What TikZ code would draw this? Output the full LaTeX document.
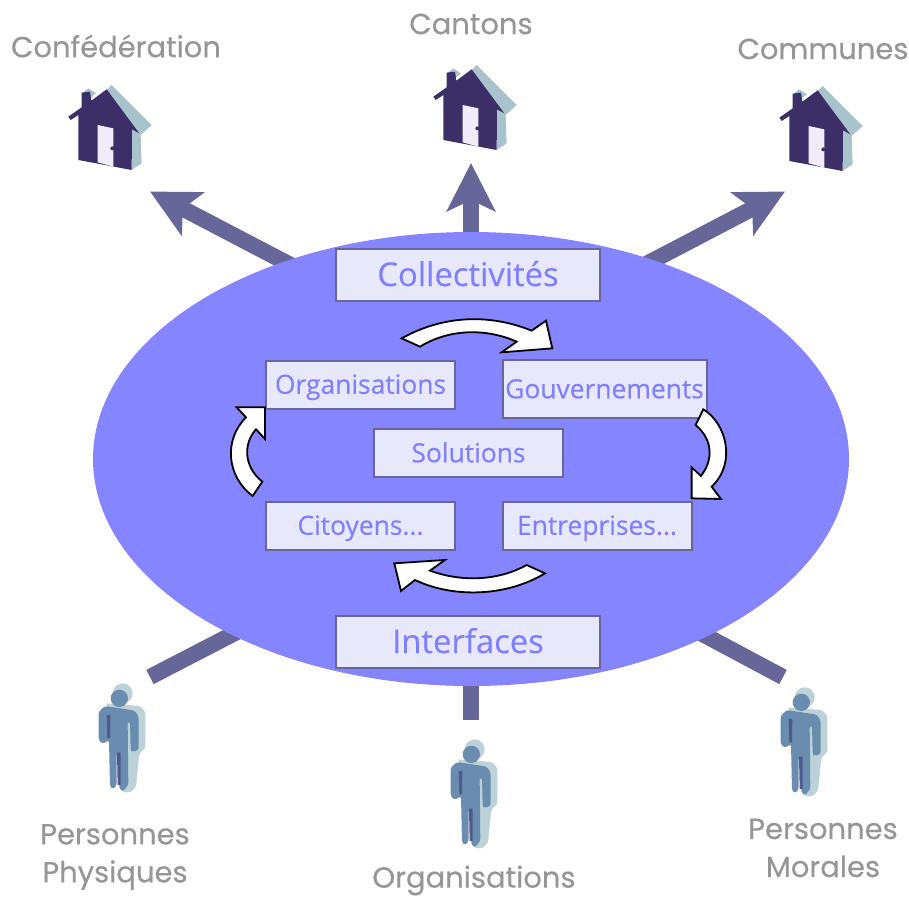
\documentclass[tikz,border=0pt]{standalone}
\usepackage{fontspec}
\setmainfont[FakeBold=0.4]{Poppins}
\newfontfamily\innerfont[FakeBold=0.3]{Open Sans}
\usetikzlibrary{arrows.meta,shapes.geometric}
\definecolor{arrowc}{HTML}{666699}
\definecolor{ellc}{HTML}{8585FF}
\definecolor{boxc}{HTML}{E8E8FC}
\definecolor{txtc}{HTML}{8080FF}
\definecolor{greyc}{HTML}{969696}
\definecolor{hdark}{HTML}{3C2F68}
\definecolor{hlight}{HTML}{A9C3CC}
\definecolor{hdoor}{HTML}{F0ECFA}
\definecolor{pblue}{HTML}{6A8CAE}
\definecolor{plight}{HTML}{BCD2D8}
\definecolor{pdark}{HTML}{4F5A8C}
\tikzset{
 bigarrow/.style={arrowc,line width=16pt,-{Stealth[length=48pt,width=48pt,inset=11pt]}},
 stub/.style={arrowc,line width=16pt},
 boxn/.style={draw=arrowc,line width=2pt,fill=boxc,text=txtc,inner sep=0pt,text height=18.5pt,text depth=0pt,font=\innerfont\fontsize{26.4}{27}\selectfont},
 bigbox/.style={boxn,minimum width=264pt,minimum height=52pt,text height=22pt,font=\innerfont\fontsize{32.8}{33}\selectfont},
 lab/.style={text=greyc,font=\fontsize{29}{38}\selectfont,align=center,inner sep=0pt},
 cyc/.style={fill=white,draw=black,line width=1.8pt,line join=miter},
 house/.pic={
  \begin{scope}[x=0.3333pt,y=-0.3333pt]
   \fill[hlight] (170,60)--(185,45)--(305,165)--(272,195)--(275,280)--(245,300)--(245,180)--cycle;
   \fill[hlight] (95,70)--(115,55)--(138,70)--(120,85)--cycle;
   \fill[hdark] (55,140)--(95,112)--(95,68)--(120,65)--(124,92)--(170,58)--(268,190)--(246,178)--(245,300)--(85,270)--(85,135)--(62,150)--cycle;
   \fill[hdoor] (143,165)--(190,175)--(190,290)--(143,277)--cycle;
   \fill[hdark] (187,235) circle (6);
  \end{scope}},
 person/.pic={
  \begin{scope}[x=0.3333pt,y=-0.3333pt]
   \fill[plight] (128,70) circle (30);
   \fill[plight,rounded corners=2.5pt] (75,100)--(180,108)--(196,125)--(196,235)--(178,250)--(168,350)--(150,368)--(125,365)--(100,130)--cycle;
   \fill[pblue] (118,85) circle (26);
   \fill[pblue,rounded corners=2.5pt] (56,125)--(75,108)--(165,122)--(176,140)--(176,240)--(157,246)--(152,240)--(150,155)--(143,155)--(145,345)--(128,365)--(118,355)--(117,250)--(110,250)--(110,345)--(100,358)--(90,350)--(87,210)--(68,222)--(56,210)--cycle;
   \fill[pdark] (80,135)--(91,135)--(90,205)--(82,205)--cycle;
   \fill[pdark] (111,248)--(122,248)--(122,345)--(113,345)--cycle;
  \end{scope}},
}
\begin{document}
\begin{tikzpicture}[x=1pt,y=-1pt]
\useasboundingbox (0,0) rectangle (909,898);
% arrow anchors
\coordinate (a1) at (150,191.5);
\coordinate (a1s) at (305,272.5);
\coordinate (a2) at (471,163);
\coordinate (a2s) at (471,260);
\coordinate (a3) at (785,191.5);
\coordinate (a3s) at (630,272.5);
\coordinate (b1) at (150,677);
\coordinate (b1s) at (260,620);
\coordinate (b2) at (471,720);
\coordinate (b2s) at (471,650);
\coordinate (b3) at (783,677);
\coordinate (b3s) at (680,622);
\draw[bigarrow] (a1s) -- (a1);
\draw[bigarrow] (a2s) -- (a2);
\draw[bigarrow] (a3s) -- (a3);
\draw[stub] (b1s) -- (b1);
\draw[stub] (b2s) -- (b2);
\draw[stub] (b3s) -- (b3);
\node[ellipse,fill=ellc,inner sep=0pt,minimum width=756pt,minimum height=454pt] (el) at (471,459) {};
\node[bigbox] (coll) at (468,275) {Collectivités};
\node[bigbox] (intf) at (468,642) {Interfaces};
\node[boxn,minimum width=189pt,minimum height=48pt] (org) at (360.5,384.5) {Organisations};
\node[boxn,minimum width=204pt,minimum height=58pt] (gouv) at (604.5,389) {Gouvernements};
\node[boxn,minimum width=189pt,minimum height=48pt] (sol) at (468.5,453) {Solutions};
\node[boxn,minimum width=189pt,minimum height=48pt] (cit) at (360.5,525.5) {Citoyens...};
\node[boxn,minimum width=189pt,minimum height=48pt] (ent) at (597,525.5) {Entreprises...};
\begin{scope}[shift={(220,310)},x=0.3333pt,y=-0.3333pt]
 \draw[cyc] (545,85) .. controls (680,10) and (820,15) .. (935,62) -- (978,32) -- (997,115) -- (845,127) -- (890,95) .. controls (800,55) and (690,55) .. (600,110) -- cycle;
 \draw[cyc] (1450,298) .. controls (1520,340) and (1550,460) .. (1475,530) -- (1503,567) -- (1415,565) -- (1415,472) -- (1443,498) .. controls (1480,450) and (1480,390) .. (1427,345) -- cycle;
 \draw[cyc] (975,790) -- (920,765) .. controls (830,815) and (720,815) .. (630,782) -- (675,750) -- (523,760) -- (543,843) -- (585,810) .. controls (700,865) and (860,860) .. (975,790) -- cycle;
 \draw[cyc] (98,558) .. controls (20,500) and (10,390) .. (78,322) -- (50,292) -- (135,292) -- (135,387) -- (108,358) .. controls (70,400) and (70,470) .. (127,515) -- cycle;
\end{scope}
\pic at (50,70) {house};
\pic at (415,50) {house};
\pic at (761,71) {house};
\pic at (80,670) {person};
\pic at (432,726) {person};
\pic at (762,674) {person};
\node[lab] (l1) at (116,46) {Confédération};
\node[lab] (l2) at (471,24) {Cantons};
\node[lab] (l3) at (823,49) {Communes};
\node[lab] (l4) at (115,857) {Personnes\\Physiques};
\node[lab] (l5) at (474,880.5) {Organisations};
\node[lab] (l6) at (823,848) {Personnes\\Morales};
\end{tikzpicture}
\end{document}
